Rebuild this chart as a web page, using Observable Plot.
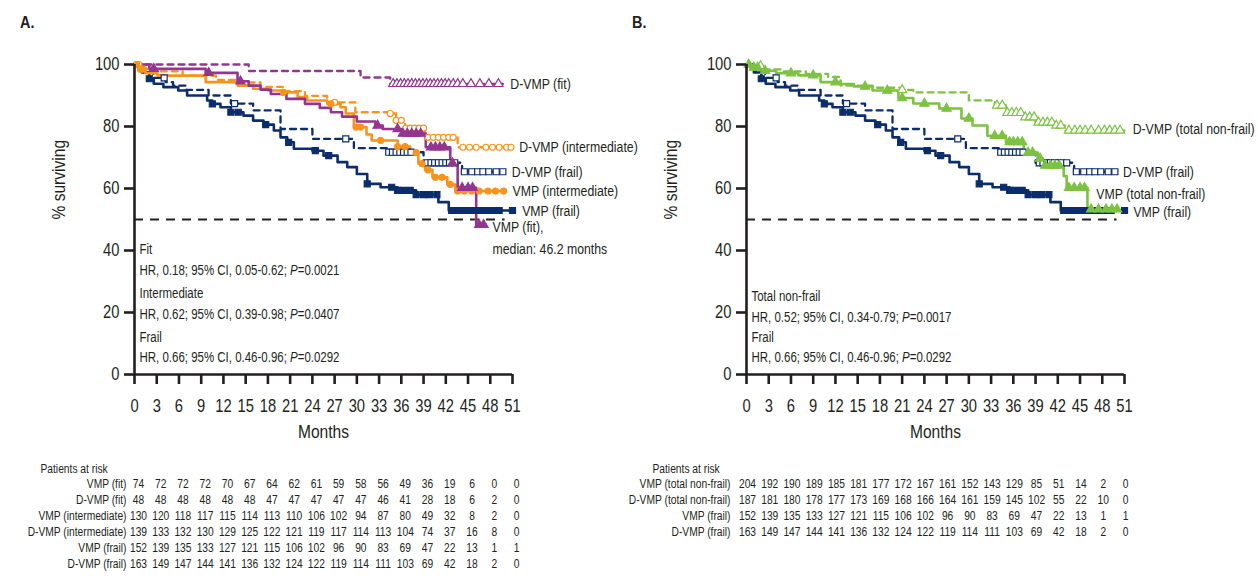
<!DOCTYPE html>
<html><head><meta charset="utf-8">
<script src="https://cdn.jsdelivr.net/npm/d3@7"></script>
<script src="https://cdn.jsdelivr.net/npm/@observablehq/plot@0.6"></script>
<style>
body{margin:0;background:#fff;}
#root{position:relative;width:1258px;height:582px;overflow:hidden;background:#fff;font-family:"Liberation Sans",Arial,sans-serif;color:#231f20;}
.slot{position:absolute;}
.tag{position:absolute;font-weight:bold;font-size:17px;line-height:1;transform:scaleX(0.85);transform-origin:left top;}
</style></head><body><div id="root"></div>
<script>
// ---------- data ----------
const months = [0,3,6,9,12,15,18,21,24,27,30,33,36,39,42,45,48,51];
const yTicks = [0,20,40,60,80,100];

// VMP (fit)
const vmpFitT = [0,2,9.6,13.9,15.4,17,18.4,20.5,23,25,26.5,28,30,32.5,33.5,36,39.3,42.6,43.6,46.1];
const vmpFitS = [100,98.6,97.3,94.6,93.2,91.9,90.5,88.9,87.3,86,84.6,83.2,81.6,80.3,79.2,77.7,73.3,68.2,60.2,48.3];
const vmpFitEnd = 47.4;
const vmpFitC = [2.6,10,14.3,32.8,35.5,36.2,36.8,37.4,38,38.6,40,40.6,41.2,41.8,42.9,44.2,45,45.6,46.5,47.1];
// D-VMP (fit)
const dvmpFitT = [0,15.4,30.5,34.5];
const dvmpFitS = [100,97.9,95.8,93.75];
const dvmpFitEnd = 49.7;
const dvmpFitC = [34.9,35.4,35.9,36.4,36.9,37.4,37.9,38.4,38.9,39.4,39.9,40.4,40.9,41.4,41.9,42.4,43,43.6,44.3,45.4,46.6,47.8,49.1];
// VMP (intermediate)
const vmpIntT = [0,0.5,1.5,3.1,9.6,13.9,16,18,20,22,23.3,26,27.8,28.5,29.6,31.3,32,35.5,37.2,38.3,39.2,40.2,42.2,43.3];
const vmpIntS = [100,98.5,97.2,96.4,94.3,93.2,92.2,91.6,91,89.5,88.4,87.3,86.2,84.2,79.8,77.4,75.5,73.5,71.6,68,66,63.6,61.3,59.2];
const vmpIntEnd = 49.8;
const vmpIntC = [0.3,0.8,1.2,20.1,26.5,29.9,30.5,33.2,35.5,36.5,38,38.8,39.6,40.6,41.5,42.6,43.6,44.5,45.5,46.5,47.7,48.7,49.8];
// D-VMP (intermediate)
const dvmpIntT = [0,0.8,2.5,6.5,11,14,17,20,23,26,29.8,34.5,35.3,36.5,39.2,43.6];
const dvmpIntS = [100,98.6,97.8,96.4,95,94.2,92.8,91.4,89.9,87.8,84.6,84.2,82,79.5,76.5,73.3];
const dvmpIntEnd = 50.8;
const dvmpIntC = [0.3,0.6,27,34.5,35.3,36,36.6,37.2,37.8,38.4,39,39.6,40.3,41,41.7,42.4,43,44.3,45.2,46.1,47.4,48.3,49.2,50.2,50.8];
// VMP (frail)
const vmpFrailT = [0,1,2,2.6,3.9,5.9,7.1,9.8,10.5,11.6,13,14.7,16,17.4,18.8,19.7,20.6,21.5,24,25.5,27.4,28.7,30,31.4,33.2,35.5,38,41,42.4];
const vmpFrailS = [100,97.4,95.4,93.8,92.7,91.6,90,88.4,87.3,86.2,84.6,83.5,81.9,80.6,78.7,76.5,74.9,72.8,72.2,70.6,68.5,66.9,64.7,61.5,60.4,59.4,58,55.6,52.9];
const vmpFrailEnd = 51;
const vmpFrailC = [2,10.5,13,14,17.7,20.8,24.4,26.2,31.4,34.7,35.5,36.3,37.2,38,39,39.8,40.8,42.8,43.6,44.4,45.2,46,46.8,47.6,48.4,49.2,51];
// D-VMP (frail)
const dvmpFrailT = [0,1.2,2.5,4.2,5.2,7,10,13,16,19.7,24,29.6,34.3,39,44.2];
const dvmpFrailS = [100,97.5,95.7,94.3,93.2,91.8,90,87.4,85.2,79.2,76,73,71.7,68.3,65.4];
const dvmpFrailEnd = 49.7;
const dvmpFrailC = [4,13.5,28.5,34.3,34.8,35.3,35.8,36.3,36.8,37.3,39.5,40,40.5,41,41.5,42,42.5,43.2,44.5,45.5,46.3,47,47.8,48.8,49.7];
// VMP (total non-frail)
const vmpNfT = [0,0.5,2,4,7,10,12.7,14.5,17,20.5,22.5,26,29,30.5,32.5,35,37.4,39.3,40,42.8,43.2,46];
const vmpNfS = [100,99,98,97.2,96.5,94.3,93.7,92.9,91.6,89.2,87.4,85.8,82.6,80.3,77,75,71.6,69.7,67.4,64,60.2,53.3];
const vmpNfEnd = 50;
const vmpNfC = [0.3,1,1.5,2.5,6,9,12,16,19,21,24,27,30,33.5,34.5,35.5,36,36.6,37.2,38,38.6,39.6,40.3,41,41.6,42.2,43.5,44.2,45,45.6,46.5,47.5,48.5,49.3,50];
// D-VMP (total non-frail)
const dvmpNfT = [0,1,2.5,5,8,11,12.7,17,21,22.5,30,33.5,35,37.5,39,41.5,43];
const dvmpNfS = [100,99.5,98.4,97.8,97,96,93.2,92.5,91.8,91,88.4,86.8,84.4,83,81.3,80.3,78.7];
const dvmpNfEnd = 51;
const dvmpNfC = [1.9,21,33.8,34.5,35.2,35.8,36.4,37,37.6,38.2,38.8,39.4,40,40.6,41.2,41.8,42.4,43.5,44.3,45,45.7,46.5,47.5,48.3,49,49.7,50.4];

// Patients at risk
const riskRowsA = ["VMP (fit)","D-VMP (fit)","VMP (intermediate)","D-VMP (intermediate)","VMP (frail)","D-VMP (frail)"];
const riskRowsB = ["VMP (total non-frail)","D-VMP (total non-frail)","VMP (frail)","D-VMP (frail)"];
const riskVmpFit   = [74,72,72,72,70,67,64,62,61,59,58,56,49,36,19,6,0,0];
const riskDvmpFit  = [48,48,48,48,48,48,47,47,47,47,47,46,41,28,18,6,2,0];
const riskVmpInt   = [130,120,118,117,115,114,113,110,106,102,94,87,80,49,32,8,2,0];
const riskDvmpInt  = [139,133,132,130,129,125,122,121,119,117,114,113,104,74,37,16,8,0];
const riskVmpFrail = [152,139,135,133,127,121,115,106,102,96,90,83,69,47,22,13,1,1];
const riskDvmpFrail= [163,149,147,144,141,136,132,124,122,119,114,111,103,69,42,18,2,0];
const riskVmpNf    = [204,192,190,189,185,181,177,172,167,161,152,143,129,85,51,14,2,0];
const riskDvmpNf   = [187,181,180,178,177,173,169,168,166,164,161,159,145,102,55,22,10,0];

// Text
const curveLabelsA = ["D-VMP (fit)","D-VMP (intermediate)","D-VMP (frail)","VMP (intermediate)","VMP (frail)","VMP (fit),","median: 46.2 months"];
const curveLabelsB = ["D-VMP (total non-frail)","D-VMP (frail)","VMP (total non-frail)","VMP (frail)"];
const notesA = ["Fit","HR, 0.18; 95% CI, 0.05-0.62; P=0.0021","Intermediate","HR, 0.62; 95% CI, 0.39-0.98; P=0.0407","Frail","HR, 0.66; 95% CI, 0.46-0.96; P=0.0292"];
const notesB = ["Total non-frail","HR, 0.52; 95% CI, 0.34-0.79; P=0.0017","Frail","HR, 0.66; 95% CI, 0.46-0.96; P=0.0292"];

// ---------- rendering ----------
const FONT = '"Liberation Sans",Arial,sans-serif';
const INK = "#231f20";
const C = {purple:"#93368f", orange:"#f7941d", navy:"#0c2d6b", green:"#7dc242"};
const NARROW = 0.82; // horizontal squeeze emulating the condensed typeface of the original

function stepData(T,S,end){ const d=T.map((t,i)=>({t,s:S[i]})); d.push({t:end,s:S[S.length-1]}); return d; }
function valueAt(T,S,c){ let v=S[0]; for(let i=0;i<T.length;i++){ if(T[i]<=c) v=S[i]; } return v; }
function censorData(T,S,Cs){ return Cs.map(c=>({t:c,s:valueAt(T,S,c)})); }

function kmChart(cfg){
  const marks = [];
  marks.push(Plot.ruleY([50],{x1:0,x2:50,stroke:INK,strokeWidth:2,strokeDasharray:"9,7"}));
  for(const s of cfg.series){
    marks.push(Plot.line(stepData(s.T,s.S,s.end),{x:"t",y:"s",curve:"step-after",stroke:s.color,
      strokeWidth:s.dashed?2.3:2.6,strokeDasharray:s.dashed?"6,5":null}));
  }
  for(const s of cfg.series){
    marks.push(Plot.dot(censorData(s.T,s.S,s.C),{x:"t",y:"s",symbol:s.symbol,
      r:s.symbol==="circle"?3:3.4,fill:s.filled?s.color:"white",stroke:s.color,strokeWidth:1.2}));
  }
  marks.push(Plot.ruleX([0],{y1:0,y2:100,stroke:INK,strokeWidth:2.6}));
  marks.push(Plot.ruleY([0],{x1:0,x2:51,stroke:INK,strokeWidth:2.6}));
  marks.push(Plot.axisX({ticks:months,tickSize:10,tickPadding:15,strokeWidth:2.6,label:null,fontSize:18,tickFormat:d=>String(d)}));
  marks.push(Plot.axisY({ticks:yTicks,tickSize:10,tickPadding:5,strokeWidth:2.6,label:null,fontSize:18,tickFormat:d=>String(d)}));
  marks.push(Plot.text(["Months"],{frameAnchor:"bottom",dy:63,fontSize:19,fill:INK}));
  marks.push(Plot.text(["% surviving"],{frameAnchor:"left",dx:-76,rotate:-90,fontSize:19,fill:INK}));
  marks.push(Plot.text(cfg.labels,{x:(d,i)=>cfg.labelPos[i][0],y:(d,i)=>cfg.labelPos[i][1],text:d=>d,textAnchor:"start",fontSize:15,fill:INK}));
  marks.push(Plot.text(cfg.notes,{y:(d,i)=>cfg.notePos[i],text:d=>d,frameAnchor:"left",dx:5,textAnchor:"start",fontSize:14,fill:INK}));
  return Plot.plot({
    width:629,height:455,marginTop:64,marginBottom:81,marginLeft:cfg.ml,marginRight:cfg.mr,
    x:{domain:[0,51]}, y:{domain:[0,100]},
    style:{fontFamily:FONT,fontSize:"17px",color:INK,background:"transparent",overflow:"visible"},
    marks
  });
}

function riskTable(cfg){
  const data = [];
  cfg.rows.forEach((r,ri)=>cfg.values[ri].forEach((v,i)=>data.push({row:r,t:months[i],v})));
  return Plot.plot({
    width:629,height:127,marginTop:19,marginBottom:127-19-cfg.rows.length*16.35,marginLeft:cfg.ml,marginRight:cfg.mr,
    x:{domain:[0,51],axis:null}, y:{domain:cfg.rows,type:"band",axis:null,padding:0},
    style:{fontFamily:FONT,fontSize:"12.5px",color:INK,background:"transparent",overflow:"visible"},
    marks:[
      Plot.text(data,{x:"t",y:"row",text:d=>String(d.v),dx:cfg.ndx,fontSize:12.5,fill:INK}),
      Plot.text(cfg.rows,{y:d=>d,frameAnchor:"left",dx:-cfg.pad,textAnchor:"end",fontSize:12.5,fill:INK}),
      Plot.text(["Patients at risk"],{frameAnchor:"top-left",dx:-94,dy:-10,textAnchor:"start",fontSize:12.5,fill:INK})
    ]
  });
}

const root = document.getElementById("root");
function place(el,left,top){ const d=document.createElement("div"); d.className="slot"; d.style.left=left+"px"; d.style.top=top+"px"; d.appendChild(el); root.appendChild(d); }

const seriesA = [
  {T:dvmpFitT,S:dvmpFitS,end:dvmpFitEnd,C:dvmpFitC,color:C.purple,dashed:true,symbol:"triangle",filled:false},
  {T:dvmpIntT,S:dvmpIntS,end:dvmpIntEnd,C:dvmpIntC,color:C.orange,dashed:true,symbol:"circle",filled:false},
  {T:dvmpFrailT,S:dvmpFrailS,end:dvmpFrailEnd,C:dvmpFrailC,color:C.navy,dashed:true,symbol:"square",filled:false},
  {T:vmpFrailT,S:vmpFrailS,end:vmpFrailEnd,C:vmpFrailC,color:C.navy,dashed:false,symbol:"square",filled:true},
  {T:vmpIntT,S:vmpIntS,end:vmpIntEnd,C:vmpIntC,color:C.orange,dashed:false,symbol:"circle",filled:true},
  {T:vmpFitT,S:vmpFitS,end:vmpFitEnd,C:vmpFitC,color:C.purple,dashed:false,symbol:"triangle",filled:true}
];
const seriesB = [
  {T:dvmpNfT,S:dvmpNfS,end:dvmpNfEnd,C:dvmpNfC,color:C.green,dashed:true,symbol:"triangle",filled:false},
  {T:dvmpFrailT,S:dvmpFrailS,end:dvmpFrailEnd,C:dvmpFrailC,color:C.navy,dashed:true,symbol:"square",filled:false},
  {T:vmpFrailT,S:vmpFrailS,end:vmpFrailEnd,C:vmpFrailC,color:C.navy,dashed:false,symbol:"square",filled:true},
  {T:vmpNfT,S:vmpNfS,end:vmpNfEnd,C:vmpNfC,color:C.green,dashed:false,symbol:"triangle",filled:true}
];

place(kmChart({series:seriesA,ml:134,mr:117,labels:curveLabelsA,
  labelPos:[[50.7,93.5],[51.9,73.2],[50.9,65.2],[51,59],[52.3,52.6],[48.3,47.4],[48.3,40.3]],
  notes:notesA,notePos:[40.3,33.5,26.1,19.4,11.9,5.5]}),0,0);
place(kmChart({series:seriesB,ml:117,mr:134,labels:curveLabelsB,
  labelPos:[[52.1,79],[50.8,65.2],[47.2,58.1],[52.2,52.3]],
  notes:notesB,notePos:[25.2,18.4,11.9,5.5]}),629,0);
place(riskTable({rows:riskRowsA,values:[riskVmpFit,riskDvmpFit,riskVmpInt,riskDvmpInt,riskVmpFrail,riskDvmpFrail],ml:134,mr:117,pad:8,ndx:4}),0,455);
place(riskTable({rows:riskRowsB,values:[riskVmpNf,riskDvmpNf,riskVmpFrail,riskDvmpFrail],ml:117,mr:134,pad:16,ndx:1}),629,455);

// panel tags
for(const [t,l] of [["A.",20],["B.",632]]){ const d=document.createElement("div"); d.className="tag"; d.textContent=t; d.style.left=l+"px"; d.style.top="14px"; root.appendChild(d); }

// italic P in HR notes
root.querySelectorAll("svg text").forEach(el=>{
  if(el.children.length===0 && el.textContent.includes("; P=")){
    const [a,b]=el.textContent.split("P=");
    el.textContent="";
    el.appendChild(document.createTextNode(a));
    const ts=document.createElementNS("http://www.w3.org/2000/svg","tspan");
    ts.setAttribute("font-style","italic"); ts.textContent="P";
    el.appendChild(ts);
    el.appendChild(document.createTextNode("="+b));
  }
});
// squeeze every text horizontally about its own anchor point
root.querySelectorAll("svg text").forEach(el=>{
  const xa=el.getAttribute("x");
  const x=(xa && /^-?[\d.]+$/.test(xa)) ? +xa : 0;
  const tr=el.getAttribute("transform")||"";
  el.setAttribute("transform", `${tr} translate(${x},0) scale(${NARROW},1) translate(${-x},0)`.trim());
});
</script></body></html>
